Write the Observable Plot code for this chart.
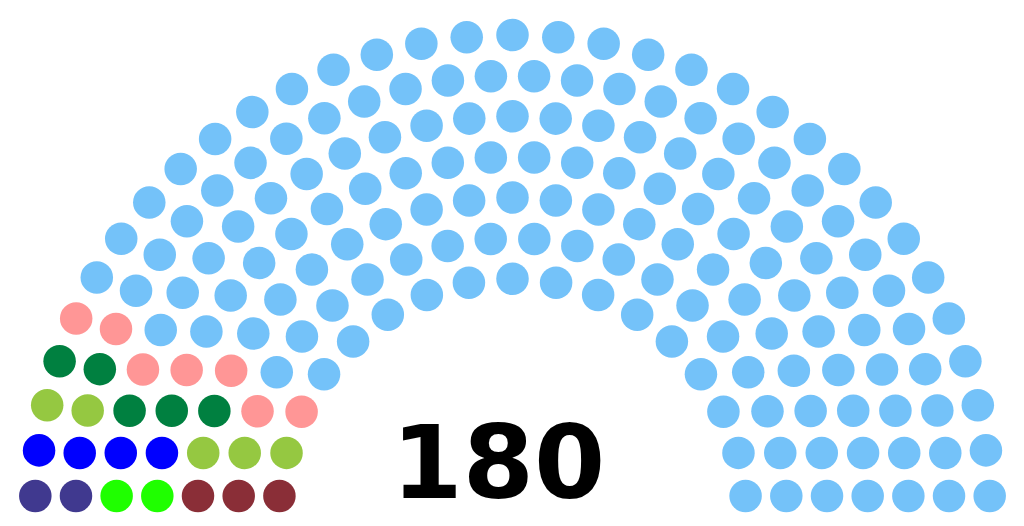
<!DOCTYPE html>
<html>
<head>
<meta charset="utf-8">
<script src="https://cdn.jsdelivr.net/npm/d3@7"></script>
<script src="https://cdn.jsdelivr.net/npm/@observablehq/plot@0.6"></script>
<style>
  html, body { margin: 0; padding: 0; background: #fff; }
  #chart svg { display: block; }
</style>
</head>
<body>
<div id="chart"></div>
<script>
// Parties, ordered from left to right of the hemicycle
const partyNames = ["Party A", "Party B", "Party C", "Party D", "Party E", "Party F", "Party G", "Party H"];
const seatCounts = [2, 2, 3, 4, 5, 5, 7, 152];
const partyColors = ["#40398f", "#1fff00", "#8a2e37", "#0000ff", "#95c841", "#008040", "#ff9696", "#74c2f9"];
const totalLabel = ["180"];

// Standard parliament-diagram seat layout (units: 360 x 185 viewBox)
const cumulativeTotals = [3, 15, 33, 61, 95, 138, 189, 247, 313, 388, 469, 559, 657, 762, 876, 997];
const total = d3.sum(seatCounts);
let rows = cumulativeTotals.findIndex(t => t >= total) + 1;
const radius = 0.4 / rows;
const pos = [];
for (let i = 1; i < rows; i++) {
  const R = (3 * rows + 4 * i - 2) / (4 * rows);
  const J = Math.floor(total / cumulativeTotals[rows - 1] * Math.PI / (2 * Math.asin(2 / (3 * rows + 4 * i - 2))));
  if (J === 1) pos.push({angle: Math.PI / 2, px: 1.75, py: R});
  else for (let j = 0; j < J; j++) {
    const a = j * (Math.PI - 2 * Math.sin(radius / R)) / (J - 1) + Math.sin(radius / R);
    pos.push({angle: a, px: R * Math.cos(a) + 1.75, py: R * Math.sin(a)});
  }
}
{
  const R = (7 * rows - 2) / (4 * rows);
  const J = total - pos.length;
  if (J === 1) pos.push({angle: Math.PI / 2, px: 1.75, py: R});
  else for (let j = 0; j < J; j++) {
    const a = j * (Math.PI - 2 * Math.sin(radius / R)) / (J - 1) + Math.sin(radius / R);
    pos.push({angle: a, px: R * Math.cos(a) + 1.75, py: R * Math.sin(a)});
  }
}
pos.sort((a, b) => (b.angle - a.angle) || (b.px - a.px) || (b.py - a.py));

const seats = [];
let k = 0;
seatCounts.forEach((n, p) => {
  for (let s = 0; s < n; s++, k++) {
    seats.push({party: partyNames[p], x: pos[k].px * 100 + 5, y: 100 * (1.75 - pos[k].py) + 5});
  }
});

const W = 1024, H = 526;
const scaleK = W / 360;

const chart = Plot.plot({
  width: W,
  height: H,
  margin: 0,
  x: {domain: [0, 360], range: [0, W], axis: null},
  y: {domain: [0, 185], range: [0, H], axis: null},
  color: {domain: partyNames, range: partyColors},
  marks: [
    Plot.dot(seats, {x: "x", y: "y", fill: "party", r: radius * 100 * scaleK, stroke: "none"}),
    Plot.text(totalLabel, {x: () => 175, y: () => 175, text: d => d, fontSize: 36 * scaleK, fontWeight: "bold",
      fontFamily: "DejaVu Sans", textAnchor: "middle", lineAnchor: "bottom", fill: "#000"})
  ]
});
document.getElementById("chart").appendChild(chart);
</script>
</body>
</html>
